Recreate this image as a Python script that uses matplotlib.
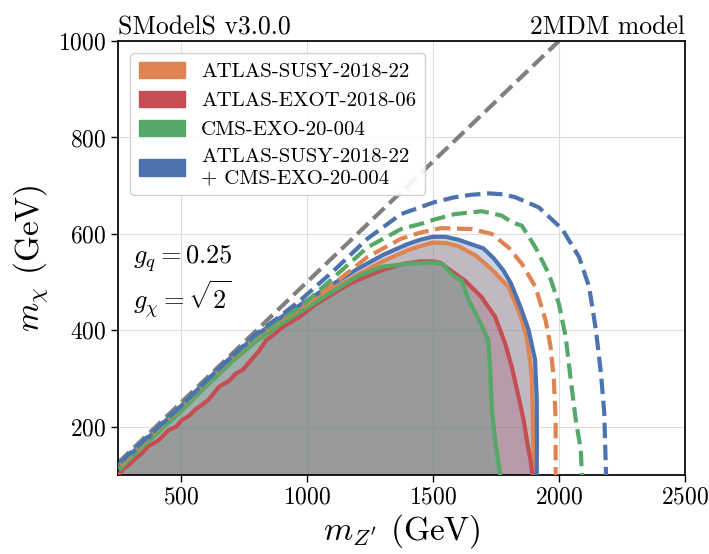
import numpy as np
import matplotlib
matplotlib.use('Agg')
import matplotlib.pyplot as plt
from matplotlib.patches import Patch

plt.rcParams['font.family'] = 'serif'
plt.rcParams['font.serif'] = ['cmr10']
plt.rcParams['mathtext.fontset'] = 'cm'
plt.rcParams['axes.formatter.use_mathtext'] = True

# observed limits (solid)
orange_x = [258, 300, 400, 500, 600, 700, 800, 900, 1000, 1100, 1200, 1300, 1400, 1450, 1500, 1550, 1600, 1670, 1730, 1800, 1845, 1870, 1885, 1893, 1897, 1900]
orange_y = [116, 138, 188, 238, 290, 340, 384, 420, 453, 485, 515, 543, 566, 575, 582, 581, 575, 555, 528, 490, 434, 390, 340, 297, 200, 100]

red_x = [252, 270, 295, 317, 345, 371, 411, 451, 480, 504, 530, 557, 585, 611, 651, 690, 717, 745, 771, 811, 837, 870, 904, 940, 971, 1000, 1037, 1070, 1104, 1171, 1237, 1300, 1383, 1450, 1500, 1530, 1560, 1627, 1693, 1747, 1787, 1813, 1840, 1860, 1873, 1887, 1895]
red_y = [100, 112, 122, 133, 145, 160, 172, 193, 200, 214, 222, 236, 246, 257, 283, 295, 310, 318, 334, 358, 379, 392, 407, 418, 428, 440, 455, 465, 476, 497, 512, 525, 538, 543, 543, 540, 528, 503, 469, 428, 372, 324, 262, 214, 172, 131, 100]

green_x = [260, 300, 400, 500, 600, 700, 800, 900, 1000, 1100, 1200, 1300, 1400, 1500, 1540, 1560, 1590, 1615, 1640, 1690, 1720, 1727, 1733, 1747, 1767]
green_y = [114, 136, 184, 232, 284, 334, 378, 414, 447, 480, 512, 532, 538, 541, 537, 524, 510, 503, 465, 414, 379, 324, 241, 172, 100]

blue_x = [255, 300, 400, 500, 600, 700, 800, 900, 1000, 1100, 1200, 1300, 1400, 1450, 1500, 1550, 1600, 1650, 1700, 1740, 1780, 1810, 1850, 1880, 1905, 1912, 1913, 1912]
blue_y = [122, 143, 193, 243, 295, 345, 390, 428, 462, 495, 527, 556, 579, 588, 594, 594, 588, 579, 570, 550, 524, 497, 445, 400, 340, 260, 180, 100]

# expected limits (dashed)
odash_x = [260, 400, 500, 600, 700, 800, 900, 973, 1107, 1240, 1373, 1453, 1533, 1653, 1733, 1800, 1853, 1907, 1947, 1967, 1980, 1987, 1987]
odash_y = [120, 190, 239, 290, 340, 386, 422, 445, 497, 552, 590, 603, 612, 610, 600, 572, 538, 490, 421, 366, 297, 214, 100]

gdash_x = [260, 400, 500, 600, 700, 800, 900, 973, 1107, 1240, 1373, 1453, 1507, 1587, 1693, 1773, 1813, 1853, 1907, 1960, 2000, 2027, 2047, 2067, 2087, 2091]
gdash_y = [124, 192, 241, 292, 342, 388, 425, 448, 510, 572, 610, 621, 630, 641, 647, 638, 624, 617, 572, 517, 455, 386, 297, 214, 152, 100]

bdash_x = [260, 400, 500, 600, 700, 800, 900, 973, 1107, 1240, 1373, 1507, 1587, 1650, 1720, 1780, 1827, 1920, 2013, 2080, 2120, 2147, 2167, 2180, 2187]
bdash_y = [127, 195, 243, 295, 345, 393, 432, 462, 524, 590, 641, 666, 676, 681, 684, 682, 676, 655, 610, 552, 490, 400, 310, 228, 100]

# kinematic line m_chi = m_Z'/2
diag_x = [250, 2000]
diag_y = [125, 1000]

labels = ['ATLAS-SUSY-2018-22', 'ATLAS-EXOT-2018-06', 'CMS-EXO-20-004',
          'ATLAS-SUSY-2018-22\n+ CMS-EXO-20-004']
colors = ['#DD8452', '#C44E52', '#55A868', '#4C72B0']

xlim = (250, 2500)
ylim = (100, 1000)

fig = plt.figure(figsize=(7.09, 5.54), dpi=100)
ax = fig.add_subplot(1, 1, 1)
fig.subplots_adjust(left=0.1664, right=0.966, top=0.926, bottom=0.1426)

obs = [(orange_x, orange_y), (red_x, red_y), (green_x, green_y), (blue_x, blue_y)]
exp = {0: (odash_x, odash_y), 2: (gdash_x, gdash_y), 3: (bdash_x, bdash_y)}

for i, (xs, ys) in enumerate(obs):
    px = np.concatenate([[xlim[0]], xs, [xlim[0]]])
    py = np.concatenate([[ys[0]], ys, [ylim[0]]])
    ax.fill(px, py, color=colors[i], alpha=0.3, lw=0, zorder=1)

ax.plot(diag_x, diag_y, '--', color='gray', lw=3, zorder=2)

for i, (xs, ys) in enumerate(obs):
    ax.plot(xs, ys, '-', color=colors[i], lw=3, zorder=3)
for i, (xs, ys) in exp.items():
    ax.plot(xs, ys, '--', color=colors[i], lw=3, zorder=3)

ax.set_xlim(*xlim)
ax.set_ylim(*ylim)
ax.set_xticks([500, 1000, 1500, 2000, 2500])
ax.set_yticks([200, 400, 600, 800, 1000])
ax.grid(True, color='#dddddd', lw=0.8, zorder=0)
ax.set_axisbelow(True)
for s in ax.spines.values():
    s.set_color('black')
    s.set_linewidth(1.25)
ax.tick_params(labelsize=17, length=5, width=1, direction='out')

ax.set_xlabel(r"$m_{Z'}$ (GeV)", fontsize=24, labelpad=2)
ax.set_ylabel(r"$m_{\chi}$ (GeV)", fontsize=24, labelpad=6)
ax.set_title('SModelS v3.0.0', loc='left', fontsize=18.5, pad=5)
ax.set_title('2MDM model', loc='right', fontsize=18.5, pad=5)

ax.text(0.027, 0.499, r'$g_q = 0.25$', transform=ax.transAxes, fontsize=19, va='center')
ax.text(0.027, 0.405, r'$g_\chi = \sqrt{2}$', transform=ax.transAxes, fontsize=19, va='center')

handles = [Patch(color=c) for c in colors]
leg = ax.legend(handles, labels, loc='upper left', fontsize=15, framealpha=0.9,
                edgecolor='#cccccc', borderaxespad=0.6, handlelength=2.2,
                handleheight=0.85, labelspacing=0.45)

fig.savefig('out.png', dpi=100)
